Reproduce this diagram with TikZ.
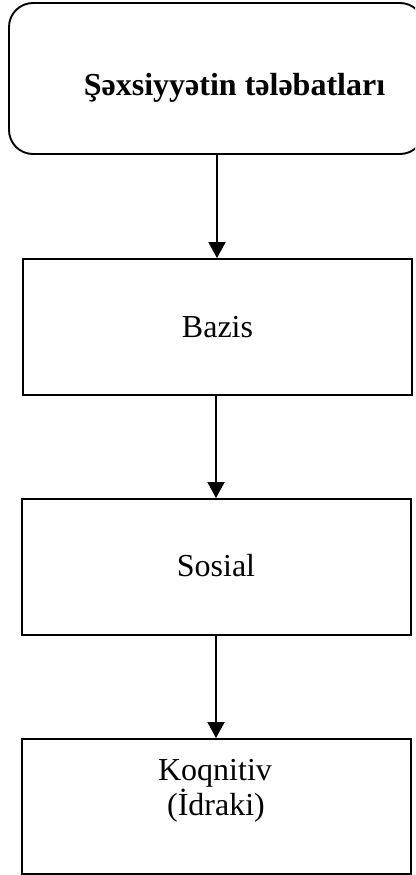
\documentclass[tikz,border=0pt]{standalone}
\usepackage{fontspec}
\setmainfont{Liberation Serif}
\usetikzlibrary{arrows.meta}
\tikzset{
  boxnode/.style={draw, line width=1.9pt, rectangle, inner sep=0pt, minimum width=389pt, minimum height=136pt},
  txt/.style={anchor=base, inner sep=0pt, font=\fontsize{32}{36}\selectfont},
  arr/.style={line width=1.9pt, -{Triangle[length=16pt,width=17pt]}}
}
\begin{document}
\begin{tikzpicture}[x=1pt,y=1pt]
\useasboundingbox (0,0) rectangle (415,-875);
\clip (0,0) rectangle (415,-875);
\node[draw, line width=1.9pt, rectangle, rounded corners=24pt, inner sep=0pt, minimum width=415pt, minimum height=151pt] (top) at (216.5,-78.5) {};
\node[boxnode] (bazis) at (217.5,-327) {};
\node[boxnode] (sosial) at (216.5,-567) {};
\node[boxnode, minimum height=135pt] (koq) at (216.5,-806.5) {};
\node[txt, font=\fontsize{32}{36}\selectfont\bfseries] (t0) at (234.5,-95) {Şəxsiyyətin tələbatları};
\node[txt] (t1) at (217.5,-337) {Bazis};
\node[txt] (t2) at (216,-576) {Sosial};
\node[txt] (t3a) at (215,-780) {Koqnitiv};
\node[txt] (t3b) at (216,-815) {(İdraki)};
\draw[arr] (top.south -| 217,0) -- (bazis.north -| 217,0);
\draw[arr] (bazis.south -| 216,0) -- (sosial.north -| 216,0);
\draw[arr] (sosial.south -| 216,0) -- (koq.north -| 216,0);
\end{tikzpicture}
\end{document}
